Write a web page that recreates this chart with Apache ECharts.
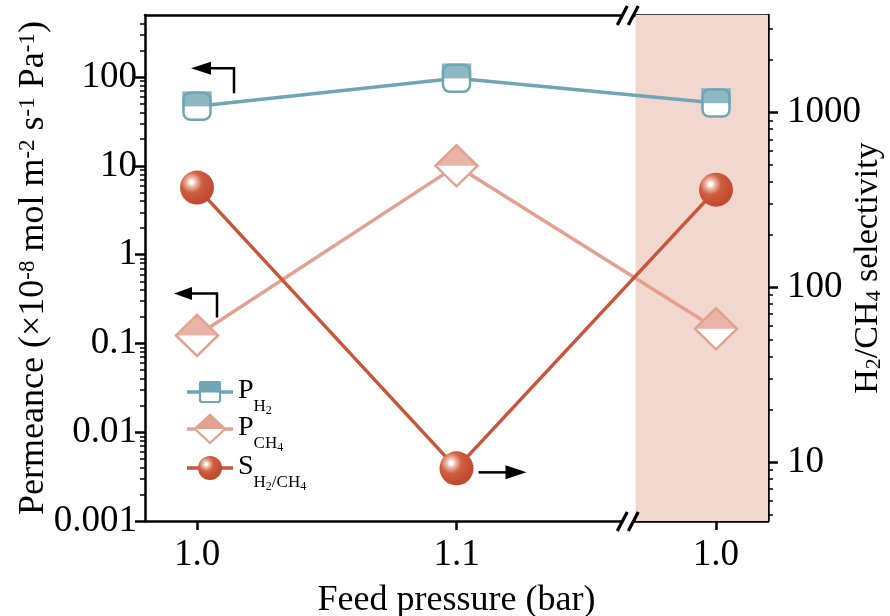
<!DOCTYPE html>
<html>
<head>
<meta charset="utf-8">
<script src="https://cdn.jsdelivr.net/npm/echarts@6/dist/echarts.min.js"></script>
<style>
  html, body { margin: 0; padding: 0; background: #fff; }
  #chart { width: 890px; height: 616px; }
</style>
</head>
<body>
<div id="chart"></div>
<script>
// Feed-pressure cycle: 1.0 bar -> 1.1 bar -> back to 1.0 bar
const categories = ['1.0', '1.1', '1.0'];
const categoryIndex = [0, 1, 2];

// Permeance (x10^-8 mol m^-2 s^-1 Pa^-1)
const permeanceH2 = [47, 97, 51];
const permeanceCH4 = [0.123, 10, 0.146];
// H2/CH4 selectivity
const selectivity = [371, 9.2, 361];

const leftTicks = [0.001, 0.01, 0.1, 1, 10, 100];
const rightTicks = [10, 100, 1000];

const FONT = 'Liberation Serif';
const C_H2 = '#6fa5b4';
const C_CH4 = '#e3a190';
const C_S = '#c9553b';
const SHADE = '#f2d7cf';

const X_MIN = -0.2004, X_MAX = 2.2004;
const BREAK_AT = 1.66, SHADE_FROM = 1.69;
const L_MIN = 0.001, L_MAX = 500;
const R_MIN = 4.6, R_MAX = 3600;

function minorValues(lo, hi) {
  const out = [];
  for (let e = Math.floor(Math.log10(lo)); e <= Math.ceil(Math.log10(hi)); e++) {
    for (let m = 2; m <= 9; m++) {
      const v = +(m * Math.pow(10, e)).toPrecision(3);
      if (v > lo * 1.0001 && v < hi * 0.9999) out.push(v);
    }
  }
  return out;
}
function fmt(v) { return String(+(+v).toPrecision(3)); }

const pairs = arr => arr.map((v, i) => [categoryIndex[i], v]);

const sphere = {
  type: 'radial', x: 0.34, y: 0.34, r: 0.62,
  colorStops: [
    { offset: 0, color: '#ffffff' },
    { offset: 0.08, color: '#ffffff' },
    { offset: 0.18, color: '#f3cabd' },
    { offset: 0.34, color: '#e0937b' },
    { offset: 0.5, color: '#cf5f42' },
    { offset: 1, color: '#c24a2f' }
  ]
};

const axisLine = { show: true, onZero: false, lineStyle: { color: '#000', width: 2.5 } };
const tickLabel = { fontFamily: FONT, fontSize: 37, color: '#000' };

const chart = echarts.init(document.getElementById('chart'), null, { renderer: 'canvas' });

const option = {
  animation: false,
  backgroundColor: '#fff',
  grid: { left: 145, right: 122, top: 15, bottom: 95, containLabel: false, outerBoundsMode: 'none' },
  xAxis: [
    {
      type: 'value', min: X_MIN, max: X_MAX, position: 'bottom',
      axisLine: axisLine,
      axisTick: { show: true, customValues: categoryIndex, length: 9, lineStyle: { color: '#000', width: 2.5 } },
      axisLabel: Object.assign({ customValues: categoryIndex, margin: 16,
        formatter: v => categories[Math.round(v)] }, tickLabel),
      splitLine: { show: false },
      name: 'Feed pressure (bar)', nameLocation: 'middle', nameGap: 62,
      nameTextStyle: { fontFamily: FONT, fontSize: 36, color: '#000' }
    },
    {
      type: 'value', min: X_MIN, max: X_MAX, position: 'top',
      axisLine: axisLine, axisTick: { show: false }, axisLabel: { show: false },
      splitLine: { show: false }
    }
  ],
  yAxis: [
    {
      type: 'log', logBase: 10, min: L_MIN, max: L_MAX, position: 'left',
      axisLine: axisLine,
      axisTick: { show: true, customValues: leftTicks, length: 10, lineStyle: { color: '#000', width: 2.5 } },
      axisLabel: Object.assign({ customValues: leftTicks, margin: 8, formatter: fmt }, tickLabel),
      splitLine: { show: false },
      name: '{n|Permeance (×10}{p|-8}{n| mol m}{p|-2}{n| s}{p|-1}{n| Pa}{p|-1}{n|)}',
      nameLocation: 'middle', nameRotate: 90, nameGap: 93, nameMoveOverlap: false,
      nameTextStyle: {
        rich: {
          n: { fontFamily: FONT, fontSize: 36, color: '#000', lineHeight: 36, padding: [10, 0, 0, 0], verticalAlign: 'bottom' },
          p: { fontFamily: FONT, fontSize: 23, color: '#000', lineHeight: 23, verticalAlign: 'top' }
        }
      }
    },
    {
      type: 'log', logBase: 10, min: L_MIN, max: L_MAX, position: 'left',
      axisLine: { show: false, onZero: false },
      axisTick: { show: true, customValues: minorValues(L_MIN, L_MAX), length: 5, lineStyle: { color: '#000', width: 1.5 } },
      axisLabel: { show: false }, splitLine: { show: false }
    },
    {
      type: 'log', logBase: 10, min: R_MIN, max: R_MAX, position: 'right',
      axisLine: axisLine,
      axisTick: { show: true, customValues: rightTicks, length: 10, lineStyle: { color: '#000', width: 2.5 } },
      axisLabel: Object.assign({ customValues: rightTicks, margin: 19, formatter: fmt }, tickLabel),
      splitLine: { show: false },
      name: '{n|H}{s|2}{n|/CH}{s|4}{n| selectivity}',
      nameLocation: 'middle', nameRotate: 90, nameGap: 83, nameMoveOverlap: false,
      nameTextStyle: {
        rich: {
          n: { fontFamily: FONT, fontSize: 34, color: '#000', lineHeight: 34, padding: [0, 0, 10, 0], verticalAlign: 'top' },
          s: { fontFamily: FONT, fontSize: 22, color: '#000', lineHeight: 22, verticalAlign: 'bottom' }
        }
      }
    },
    {
      type: 'log', logBase: 10, min: R_MIN, max: R_MAX, position: 'right',
      axisLine: { show: false, onZero: false },
      axisTick: { show: true, customValues: minorValues(R_MIN, R_MAX), length: 5, lineStyle: { color: '#000', width: 1.5 } },
      axisLabel: { show: false }, splitLine: { show: false }
    }
  ],
  series: [
    {
      // shaded return-to-1.0-bar region
      type: 'line', data: [], z: 1, silent: true,
      markArea: { silent: true, itemStyle: { color: SHADE }, data: [[{ xAxis: SHADE_FROM }, { xAxis: X_MAX }]] }
    },
    {
      name: 'P_CH4', type: 'line', yAxisIndex: 0, z: 3, data: pairs(permeanceCH4),
      lineStyle: { color: C_CH4, width: 3.5 },
      symbol: 'diamond', symbolSize: [42, 41],
      itemStyle: { color: '#fff', borderColor: C_CH4, borderWidth: 2.5 }
    },
    {
      type: 'scatter', yAxisIndex: 0, z: 4, silent: true, data: pairs(permeanceCH4),
      symbol: 'path://M0,10L10,0L20,10Z', symbolSize: [44, 22], symbolOffset: [0, -11],
      itemStyle: { color: C_CH4 }
    },
    {
      name: 'P_H2', type: 'line', yAxisIndex: 0, z: 3, data: pairs(permeanceH2),
      lineStyle: { color: C_H2, width: 3.5 },
      symbol: 'roundRect', symbolSize: 27,
      itemStyle: { color: '#fff', borderColor: C_H2, borderWidth: 2.5 }
    },
    {
      type: 'scatter', yAxisIndex: 0, z: 4, silent: true, data: pairs(permeanceH2),
      symbol: 'path://M0,0H20V10H0Z', symbolSize: [29.5, 15], symbolOffset: [0, -7.3],
      itemStyle: { color: C_H2 }
    },
    {
      name: 'S', type: 'line', yAxisIndex: 2, z: 3, data: pairs(selectivity),
      lineStyle: { color: C_S, width: 3.5 },
      symbol: 'circle', symbolSize: 34,
      itemStyle: { color: sphere }
    }
  ]
};

chart.setOption(option);

// annotations positioned from the data points
function px(yIdx, x, y) { return chart.convertToPixel({ xAxisIndex: 0, yAxisIndex: yIdx }, [x, y]); }

function arrowLeft(points, tip, baseX, half) {
  return [
    { type: 'polyline', shape: { points: points }, style: { stroke: '#000', lineWidth: 2.5, fill: null }, z: 50 },
    { type: 'polygon', shape: { points: [[tip[0], tip[1]], [baseX, tip[1] - half], [baseX, tip[1] + half]] }, style: { fill: '#000' }, z: 50 }
  ];
}

const g = [];
const h2 = px(0, categoryIndex[0], permeanceH2[0]);
g.push(...arrowLeft([[h2[0] + 37, h2[1] - 13], [h2[0] + 37, h2[1] - 38], [h2[0] + 12, h2[1] - 38]],
  [h2[0] - 6, h2[1] - 38], h2[0] + 14, 6.5));
const ch4 = px(0, categoryIndex[0], permeanceCH4[0]);
g.push(...arrowLeft([[ch4[0] + 20, ch4[1] - 18], [ch4[0] + 20, ch4[1] - 42], [ch4[0] - 7, ch4[1] - 42]],
  [ch4[0] - 23, ch4[1] - 42], ch4[0] - 5, 6.5));
const s1 = px(2, categoryIndex[1], selectivity[1]);
g.push({ type: 'line', shape: { x1: s1[0] + 22, y1: s1[1] + 4, x2: s1[0] + 51, y2: s1[1] + 4 }, style: { stroke: '#000', lineWidth: 2.5 }, z: 50 });
g.push({ type: 'polygon', shape: { points: [[s1[0] + 70, s1[1] + 4], [s1[0] + 49, s1[1] - 3], [s1[0] + 49, s1[1] + 11]] }, style: { fill: '#000' }, z: 50 });

// axis break marks on top and bottom frame lines
const bTop = px(0, BREAK_AT, L_MAX), bBot = px(0, BREAK_AT, L_MIN);
[bTop, bBot].forEach(p => {
  g.push({ type: 'rect', shape: { x: p[0] - 6, y: p[1] - 3, width: 12, height: 6 }, style: { fill: '#fff' }, z: 49 });
  [-5.5, 5.5].forEach(d => {
    g.push({ type: 'line', shape: { x1: p[0] + d - 5, y1: p[1] + 10, x2: p[0] + d + 5, y2: p[1] - 9 },
      style: { stroke: '#000', lineWidth: 3.2, lineCap: 'butt' }, z: 50 });
  });
});

// legend
const legendRows = [
  { y: 392, color: C_H2, kind: 'square', text: '{m|P}{s|H}{ss|2}' },
  { y: 429, color: C_CH4, kind: 'diamond', text: '{m|P}{s|CH}{ss|4}' },
  { y: 468, color: C_S, kind: 'sphere', text: '{m|S}{s|H}{ss|2}{s|/CH}{ss|4}' }
];
const legendRich = {
  m: { fontFamily: FONT, fontSize: 28, lineHeight: 28, padding: [0, 0, 12, 0], verticalAlign: 'bottom', fill: '#000' },
  s: { fontFamily: FONT, fontSize: 17, lineHeight: 17, padding: [0, 0, 2, 0], verticalAlign: 'bottom', fill: '#000' },
  ss: { fontFamily: FONT, fontSize: 12, lineHeight: 12, padding: [0, 0, 0, 0], verticalAlign: 'bottom', fill: '#000' }
};
const lx = 210;
legendRows.forEach(r => {
  g.push({ type: 'line', shape: { x1: lx - 23, y1: r.y, x2: lx - 11, y2: r.y }, style: { stroke: r.color, lineWidth: 3.5 }, z: 40 });
  g.push({ type: 'line', shape: { x1: lx + 11, y1: r.y, x2: lx + 23, y2: r.y }, style: { stroke: r.color, lineWidth: 3.5 }, z: 40 });
  if (r.kind === 'square') {
    g.push({ type: 'rect', shape: { x: lx - 10, y: r.y - 10, width: 20, height: 20, r: 2 }, style: { fill: '#fff', stroke: r.color, lineWidth: 2.2 }, z: 41 });
    g.push({ type: 'rect', shape: { x: lx - 11, y: r.y - 11, width: 22, height: 11.5, r: [2, 2, 0, 0] }, style: { fill: r.color }, z: 42 });
  } else if (r.kind === 'diamond') {
    g.push({ type: 'polygon', shape: { points: [[lx, r.y - 14], [lx + 15, r.y], [lx, r.y + 14], [lx - 15, r.y]] }, style: { fill: '#fff', stroke: r.color, lineWidth: 2.2 }, z: 41 });
    g.push({ type: 'polygon', shape: { points: [[lx, r.y - 15.5], [lx + 16.5, r.y], [lx - 16.5, r.y]] }, style: { fill: r.color }, z: 42 });
  } else {
    g.push({ type: 'circle', shape: { cx: lx, cy: r.y, r: 12 }, style: { fill: sphere }, z: 41 });
  }
  g.push({ type: 'text', x: lx + 28, y: r.y + 11, style: { text: r.text, rich: legendRich, fill: '#000', verticalAlign: 'middle' }, z: 43 });
});

chart.setOption({ graphic: g });
</script>
</body>
</html>
